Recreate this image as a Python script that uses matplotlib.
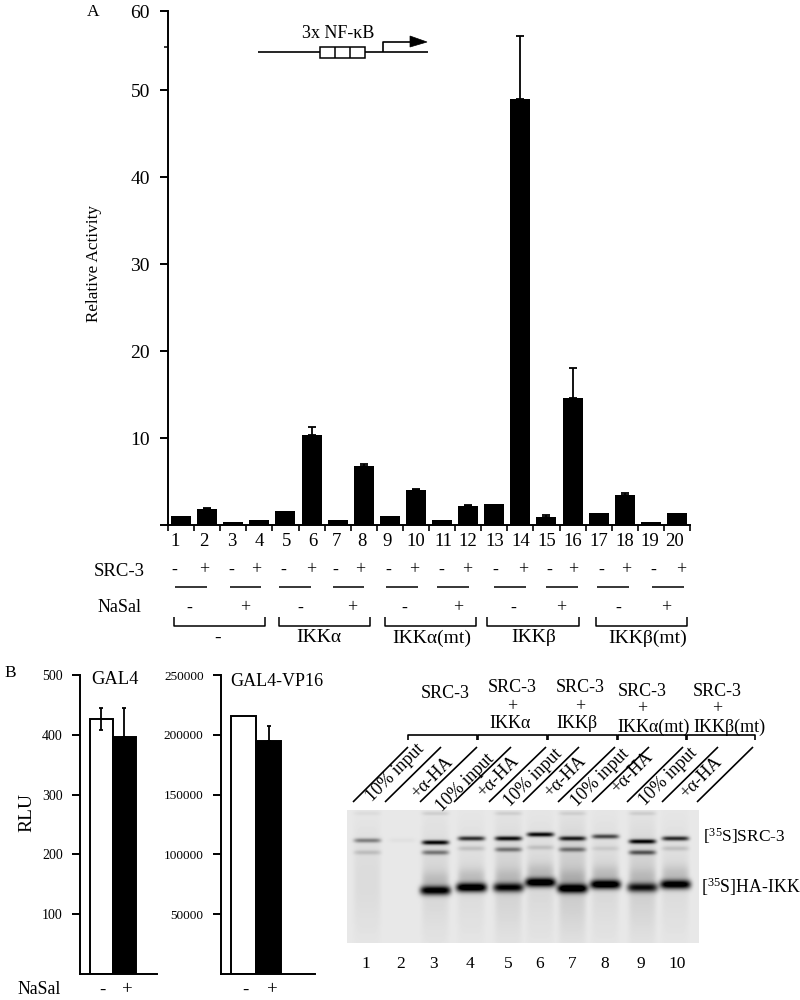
import numpy as np
import matplotlib
matplotlib.use("Agg")
import matplotlib.pyplot as plt
from matplotlib.patches import Polygon, Rectangle

plt.rcParams['font.family'] = ['Liberation Serif', 'DejaVu Serif']
plt.rcParams['mathtext.fontset'] = 'custom'
plt.rcParams['mathtext.rm'] = 'Liberation Serif'
plt.rcParams['mathtext.default'] = 'rm'

# ---- data ----
lanes_a = list(range(1, 21))
activity = [1.0, 1.8, 0.4, 0.6, 1.6, 10.3, 0.6, 6.8, 1.0, 4.0, 0.6, 2.2, 2.4, 49.0, 0.9, 14.6, 1.4, 3.5, 0.4, 1.4]
activity_err = [0, 0.2, 0, 0, 0, 1.0, 0, 0.2, 0, 0.1, 0, 0.1, 0, 7.2, 0.2, 3.4, 0, 0.2, 0, 0]
a_ticks = [0, 10, 20, 30, 40, 50, 59.1]
a_ticklabels = ['', '10', '20', '30', '40', '50', '60']

gal4_vals = [426, 396]
gal4_err_up = [18, 48]
gal4_err_down = [18, 0]
vp16_vals = [216000, 195000]
vp16_err_up = [0, 12000]
gal4_ticks = [100, 200, 300, 400, 500]
vp16_ticks = [50000, 100000, 150000, 200000, 250000]

src3_signs = ['-', '+'] * 10
nasal_signs = ['-', '+'] * 5
groups = ['-', 'IKKα', 'IKKα(mt)', 'IKKβ', 'IKKβ(mt)']
gel_numbers = list(range(1, 11))
gel_lane_labels = ['10% input', '+α-HA'] * 5

# gel bands per lane: darkness 0-1
gel_upper = [0.38, 0.03, 0.85, 0.70, 0.82, 0.85, 0.75, 0.60, 0.85, 0.72]
gel_middle = [0.13, 0.0, 0.40, 0.12, 0.40, 0.12, 0.40, 0.08, 0.52, 0.12]
gel_lower = [0.0, 0.0, 0.90, 1.0, 0.82, 1.0, 0.97, 1.0, 0.75, 0.95]
gel_smear = [0.05, 0.0, 0.07, 0.05, 0.09, 0.06, 0.12, 0.06, 0.10, 0.05]
gel_upper_row = [840, 840, 842, 838, 838, 834, 838, 836, 841, 838]
gel_middle_row = [852, 852, 852, 848, 849, 847, 849, 848, 852, 848]
gel_lower_row = [890, 890, 890, 887, 887, 882, 888, 884, 887, 884]
gel_lane_x = [367, 402, 435, 471, 508, 540, 572, 605, 642, 675]

W, H = 800, 1000
fig = plt.figure(figsize=(8, 10), dpi=100, facecolor='white')


def px_axes(left, top, right, bottom, **kw):
    return fig.add_axes([left / W, 1 - bottom / H, (right - left) / W, (bottom - top) / H], **kw)


LW = 1.4
FS = 12


def style(ax):
    for s in ['top', 'right']:
        ax.spines[s].set_visible(False)
    for s in ['left', 'bottom']:
        ax.spines[s].set_linewidth(LW)
    ax.patch.set_alpha(0)


# ---- Panel A ----
ax = px_axes(168, 11, 690, 525)
style(ax)
ax.bar(lanes_a, activity, width=0.77, color='black')
for x, v, e in zip(lanes_a, activity, activity_err):
    if e:
        ax.errorbar(x, v, yerr=[[0], [e]], color='black', lw=1.3, capsize=3, capthick=1.3)
ax.set_xlim(0.5, 20.5)
ax.set_ylim(0, 59.1)
ax.set_xticks(np.arange(0.5, 21, 1))
ax.set_xticklabels([])
ax.set_yticks(a_ticks)
ax.set_yticklabels(a_ticklabels, fontsize=14)
ax.set_yticks([55], minor=True)
ax.tick_params(axis='y', which='major', length=6, width=LW, pad=7)
ax.tick_params(axis='y', which='minor', length=3, width=1.1)
ax.tick_params(axis='x', length=4, width=1.2)

# ---- Panel B bars ----
bx = px_axes(80, 675, 157, 974)
style(bx)
bx.bar([0, 1], gal4_vals, width=1, color=['white', 'black'], edgecolor='black', linewidth=LW)
bx.errorbar(0, gal4_vals[0], yerr=[[gal4_err_down[0]], [gal4_err_up[0]]], color='black', lw=1.3, capsize=1.5, capthick=1.3)
bx.errorbar(1, gal4_vals[1], yerr=[[0], [gal4_err_up[1]]], color='black', lw=1.3, capsize=1.5, capthick=1.3)
bx.set_xlim(-0.92, 2.42)
bx.set_ylim(0, 500)
bx.set_yticks(gal4_ticks)
bx.set_yticklabels([str(t) for t in gal4_ticks], fontsize=10)
bx.set_xticks([])
bx.tick_params(axis='y', length=6, width=LW, pad=6.5)

cx = px_axes(221, 675, 315, 974)
style(cx)
cx.bar([0, 1], vp16_vals, width=1, color=['white', 'black'], edgecolor='black', linewidth=LW)
cx.errorbar(1, vp16_vals[1], yerr=[[0], [vp16_err_up[1]]], color='black', lw=1.3, capsize=1.5, capthick=1.3)
cx.set_xlim(-0.9, 2.86)
cx.set_ylim(0, 250000)
cx.set_yticks(vp16_ticks)
cx.set_yticklabels([str(t) for t in vp16_ticks], fontsize=9.5)
cx.set_xticks([])
cx.tick_params(axis='y', length=6, width=LW, pad=6.5)

# ---- Gel image ----
gx = px_axes(347, 810, 699, 943)
xx, yy = np.meshgrid(np.arange(347, 699), np.arange(810, 943))
dark = np.full(xx.shape, 0.09)
for i, lx in enumerate(gel_lane_x):
    lane = np.exp(-((np.abs(xx - lx) / 13.5) ** 6))
    wide = np.exp(-((np.abs(xx - lx) / 15.5) ** 6))
    dark += lane * gel_upper[i] * np.exp(-((yy - gel_upper_row[i]) / 2.3) ** 2)
    dark += lane * gel_middle[i] * np.exp(-((yy - gel_middle_row[i]) / 2.4) ** 2)
    dark += wide * gel_lower[i] * np.exp(-((yy - gel_lower_row[i]) / 4.6) ** 2)
    dark += lane * gel_smear[i] * np.exp(-((yy - 880) / 55) ** 2)
    dark += lane * gel_lower[i] * 0.12 * np.exp(-((yy - gel_lower_row[i] + 10) / 9) ** 2)
    dark += lane * gel_upper[i] * 0.10 * np.exp(-((yy - 813) / 2.0) ** 2) * (i % 2 == 0)
gx.imshow(1 - np.clip(dark, 0, 1), cmap='gray', vmin=0, vmax=1, aspect='auto', interpolation='bilinear',
          extent=[347, 699, 943, 810])
gx.axis('off')

# ---- overlay for labels ----
ov = fig.add_axes([0, 0, 1, 1])
ov.set_xlim(0, W)
ov.set_ylim(H, 0)
ov.axis('off')
ov.patch.set_alpha(0)


def T(x, y, s, size=FS, ha='center', va='center', **kw):
    ov.text(x, y, s, fontsize=size, ha=ha, va=va, color='black', **kw)


def L(xs, ys, lw=1.1, z=2):
    ov.plot(xs, ys, color='black', lw=lw, solid_capstyle='butt', zorder=z)


T(93, 12, 'A', 12.5)
T(10, 673, 'B', 12.5)
T(94, 263, 'Relative Activity', 12.3, rotation=90)
T(27, 813, 'RLU', 14, rotation=90)
T(115, 679, 'GAL4', 13.3)
T(277, 682, 'GAL4-VP16', 13)
T(17, 990, 'NaSal', 12.8, ha='left')

for x, s in zip([102, 127, 245, 272], ['-', '+', '-', '+']):
    T(x, 990, s, 13.5)

# promoter diagram
T(338, 33, '3x NF-κB', 13)
L([258, 428], [52, 52], 1.2)
ov.add_patch(Rectangle((320, 47), 45, 11, fc='white', ec='black', lw=1.1, zorder=3))
L([335, 335], [47, 58], z=4)
L([350, 350], [47, 58], z=4)
L([383, 383, 412], [52, 42, 42], 1.2)
ov.add_patch(Polygon([[410, 36], [427, 42], [410, 47]], fc='black', ec='black', lw=0.5))

# panel A row labels
num_x = [175, 204, 232, 259, 287, 313, 336, 362, 387, 416, 443, 468, 495, 521, 547, 573, 599, 625, 650, 675]
for x, n in zip(num_x, lanes_a):
    T(x, 542, str(n), 13.5)
T(145, 571, 'SRC-3', 13.5, ha='right')
T(142, 608, 'NaSal', 13, ha='right')
sign_x = [174, 204, 231, 256, 283, 311, 335, 360, 388, 414, 441, 467, 495, 523, 549, 573, 601, 626, 653, 681]
for x, s in zip(sign_x, src3_signs):
    T(x, 570, s, 13)
line_x = [(175, 207), (230, 261), (279, 311), (333, 364), (386, 418), (437, 469), (494, 526), (546, 578), (597, 629), (652, 684)]
for a, b in line_x:
    L([a, b], [587, 587])
nasal_x = [189, 245, 300, 352, 404, 458, 513, 561, 618, 666]
for x, s in zip(nasal_x, nasal_signs):
    T(x, 608, s, 13)
brackets = [(174, 265), (279, 370), (385, 476), (487, 579), (596, 687)]
group_x = [218, 319, 432, 534, 648]
for (a, b), gx_, g in zip(brackets, group_x, groups):
    L([a, a, b, b], [617, 626, 626, 617])
    T(gx_, 638, g, 14)

# gel headers
T(445, 694, 'SRC-3', 13)
for x, lx, l3, ys in [(512, 510, 'IKKα', (688, 707, 723)), (580, 577, 'IKKβ', (688, 707, 723)),
                      (642, 654, 'IKKα(mt)', (691, 709, 727)), (717, 729, 'IKKβ(mt)', (691, 709, 727))]:
    T(x, ys[0], 'SRC-3', 13)
    T(x, ys[1], '+', 13)
    T(lx, ys[2], l3, 13)
for a, b in [(408, 477), (478, 547), (548, 617), (618, 686), (687, 755)]:
    L([a, a, b, b], [740, 735, 735, 740], 1.2)

slant_start = [353, 385, 420, 454, 489, 523, 558, 592, 627, 662, 697]
slant_end = [408, 441, 477, 511, 546, 579, 615, 649, 683, 718, 753]
for a, b in zip(slant_start, slant_end):
    L([a, b], [802, 747], 1.2)
label_pos = [(395, 773), (432, 778), (465, 783), (498, 777), (533, 778), (565, 777), (600, 778), (632, 773), (668, 777), (701, 778)]
for (x, y), s in zip(label_pos, gel_lane_labels):
    T(x, y, s, 13, rotation=45, rotation_mode='anchor')

T(703, 836, r'[$^{35}$S]SRC-3', 12.5, ha='left')
T(701, 887, r'[$^{35}$S]HA-IKK', 12.8, ha='left')
gel_num_x = [366, 401, 434, 470, 508, 540, 572, 605, 641, 677]
for x, n in zip(gel_num_x, gel_numbers):
    T(x, 964, str(n), 12.5)

fig.savefig('out.png', dpi=100)
